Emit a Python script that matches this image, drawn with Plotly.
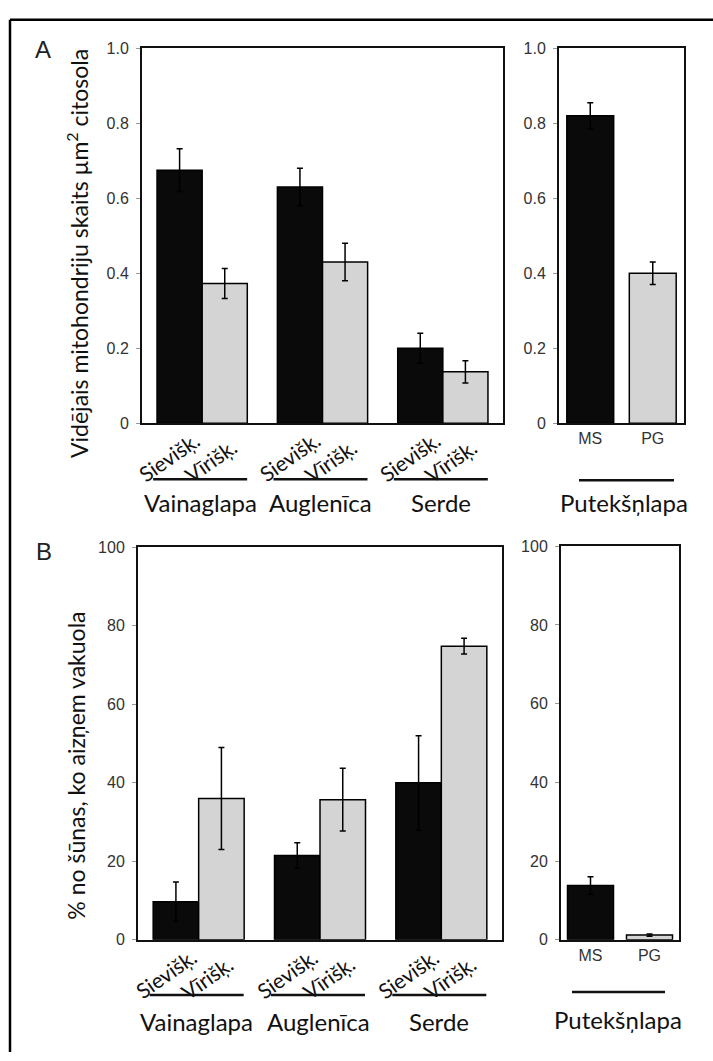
import plotly.graph_objects as go

W, H = 713, 1061

# ---------------- data ----------------
organs = ["Vainaglapa", "Auglenīca", "Serde"]
sex_labels = ["Sievišķ.", "Vīrišķ."]
anther_label = "Putekšņlapa"
anther_cats = ["MS", "PG"]

# Panel A: mitochondria per µm2 cytosol
a_female = [0.675, 0.63, 0.20]
a_female_err = [0.057, 0.05, 0.04]
a_male = [0.373, 0.43, 0.137]
a_male_err = [0.04, 0.05, 0.03]
a_anther = [0.82, 0.40]
a_anther_err = [0.035, 0.03]

# Panel B: % of cell occupied by vacuole
b_female = [9.7, 21.5, 40.0]
b_female_err = [5.0, 3.2, 12.0]
b_male = [36.0, 35.7, 74.8]
b_male_err = [13.0, 8.0, 2.0]
b_anther = [13.8, 1.2]
b_anther_err = [2.2, 0.3]

a_ticks = [0, 0.2, 0.4, 0.6, 0.8, 1.0]
a_ticktext = ["0", "0.2", "0.4", "0.6", "0.8", "1.0"]
b_ticks = [0, 20, 40, 60, 80, 100]

a_ytitle = "Vidējais mitohondriju skaits µm<sup>2</sup> citosola"
b_ytitle = "% no šūnas, ko aizņem vakuola"

BLACK = "#0a0a0a"
GRAY = "#d4d4d4"
LBL_FONT = "Lato, Carlito, 'Open Sans', sans-serif"
NUM_FONT = "'Liberation Sans', Arial, sans-serif"


def px(x):
    return x / W


def py(y):
    return 1 - y / H


# plot areas in pixels (left, right, top, bottom)
boxes = {
    "A1": (142, 503, 41, 422),
    "A2": (559, 684, 41, 422),
    "B1": (138, 502, 548, 947),
    "B2": (561, 679, 547, 947),
}

fig = go.Figure()

err_style = dict(type="data", color="black", thickness=1.5, width=3, visible=True)

# Panel A
fig.add_trace(go.Bar(x=organs, y=a_female, marker=dict(color=BLACK, line=dict(color="black", width=1.5)),
                     error_y=dict(array=a_female_err, **err_style), xaxis="x", yaxis="y"))
fig.add_trace(go.Bar(x=organs, y=a_male, marker=dict(color=GRAY, line=dict(color="black", width=1.5)),
                     error_y=dict(array=a_male_err, **err_style), xaxis="x", yaxis="y"))
fig.add_trace(go.Bar(x=anther_cats, y=a_anther, marker=dict(color=[BLACK, GRAY], line=dict(color="black", width=1.5)),
                     error_y=dict(array=a_anther_err, **err_style), xaxis="x2", yaxis="y2"))
# Panel B
fig.add_trace(go.Bar(x=organs, y=b_female, marker=dict(color=BLACK, line=dict(color="black", width=1.5)),
                     error_y=dict(array=b_female_err, **err_style), xaxis="x3", yaxis="y3"))
fig.add_trace(go.Bar(x=organs, y=b_male, marker=dict(color=GRAY, line=dict(color="black", width=1.5)),
                     error_y=dict(array=b_male_err, **err_style), xaxis="x3", yaxis="y3"))
fig.add_trace(go.Bar(x=anther_cats, y=b_anther, width=0.78,
                     marker=dict(color=[BLACK, GRAY], line=dict(color="black", width=1.5)),
                     error_y=dict(array=b_anther_err, **err_style), xaxis="x4", yaxis="y4"))


def xax(box, anchor, show_labels):
    l, r, t, b = boxes[box]
    return dict(domain=[px(l), px(r)], anchor=anchor, showline=True, mirror=True,
                linecolor="#111", linewidth=2, showgrid=False, zeroline=False,
                ticks="", showticklabels=show_labels, fixedrange=True,
                tickfont=dict(family=NUM_FONT, size=16, color="#333"))


def yax(box, anchor, rng, tv, tt):
    l, r, t, b = boxes[box]
    return dict(domain=[py(b), py(t)], anchor=anchor, range=rng, showline=True, mirror=True,
                linecolor="#111", linewidth=2, showgrid=False, zeroline=False,
                ticks="outside", ticklen=4, tickcolor="#999", tickwidth=1,
                tickvals=tv, ticktext=tt, ticklabelstandoff=4,
                tickfont=dict(family=NUM_FONT, size=16, color="#333"))


fig.update_layout(
    width=W, height=H, margin=dict(l=0, r=0, t=0, b=0),
    paper_bgcolor="white", plot_bgcolor="white", showlegend=False,
    barmode="group", bargap=0.25, bargroupgap=0,
    xaxis=xax("A1", "y", False), yaxis=yax("A1", "x", [0, 1], a_ticks, a_ticktext),
    xaxis2=xax("A2", "y2", True), yaxis2=yax("A2", "x2", [0, 1], a_ticks, a_ticktext),
    xaxis3=xax("B1", "y3", False), yaxis3=yax("B1", "x3", [0, 100], b_ticks, [str(v) for v in b_ticks]),
    xaxis4=xax("B2", "y4", True), yaxis4=yax("B2", "x4", [0, 100], b_ticks, [str(v) for v in b_ticks]),
)

ann = []
shapes = []


def text(x, y, s, size, family=LBL_FONT, angle=0, color="#111"):
    ann.append(dict(x=px(x), y=py(y), xref="paper", yref="paper", text=s, showarrow=False,
                    textangle=angle, xanchor="center", yanchor="middle",
                    font=dict(family=family, size=size, color=color)))


def hline(x0, x1, y):
    shapes.append(dict(type="line", xref="paper", yref="paper", x0=px(x0), x1=px(x1), y0=py(y), y1=py(y),
                       line=dict(color="#111", width=2.5)))


# group labels under left panels
for box, line_y, name_y in (("B1", 1003, 1030), ("A1", 479, 503)):
    l, r, t, b = boxes[box]
    cw = (r - l) / len(organs)
    for i, org in enumerate(organs):
        c = l + cw * (i + 0.5)
        text(c - 33, b + 34, sex_labels[0], 21, angle=-35)
        text(c + 8, b + 38, sex_labels[1], 21, angle=-35)
        hline(c - 49, c + 45, line_y)
        text(c - 2, name_y, org, 24)

# anther labels
hline(579, 674, 480)
text(624, 503, anther_label, 24)
hline(572, 665, 1000)
text(618, 1028, anther_label, 24)

# y-axis titles
text(78, 250, a_ytitle, 23, angle=-90)
text(76, 770, b_ytitle, 23, angle=-90)

# panel letters
text(43, 42, "A", 24, family=NUM_FONT, color="#222")
text(44, 552, "B", 24, family=NUM_FONT, color="#222")

# outer frame (top and left edges visible)
shapes.append(dict(type="line", xref="paper", yref="paper", x0=px(10), x1=px(713), y0=py(12), y1=py(12),
                   line=dict(color="black", width=2.5)))
shapes.append(dict(type="line", xref="paper", yref="paper", x0=px(10), x1=px(10), y0=py(12), y1=py(1061),
                   line=dict(color="black", width=2.5)))

fig.update_layout(annotations=ann, shapes=shapes)
fig.write_html("out.html")
